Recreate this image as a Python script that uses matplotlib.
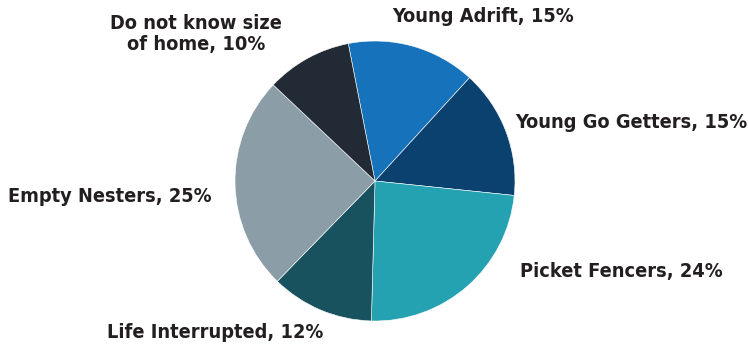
import matplotlib.pyplot as plt

labels = ['Young Adrift, 15%', 'Young Go Getters, 15%', 'Picket Fencers, 24%',
          'Life Interrupted, 12%', 'Empty Nesters, 25%', 'Do not know size\nof home, 10%']
values = [15, 15, 24, 12, 25, 10]
colors = ['#1673bb', '#0b416e', '#24a2b1', '#18525f', '#8b9ea8', '#222b35']

# label anchor points in pixels (x, y from top), placed by hand
label_pos = [(483, 17), (631, 122), (621, 272), (215, 333), (110, 197), (196, 34)]

W, H = 749, 352
fig = plt.figure(figsize=(W / 100, H / 100), dpi=100)
ax = fig.add_axes([235 / W, (H - 321) / H, 280 / W, 280 / H])
ax.pie(values, colors=colors, startangle=101, counterclock=False,
       wedgeprops=dict(edgecolor='white', linewidth=0.4))
ax.set_xlim(-1, 1)
ax.set_ylim(-1, 1)
ax.set_aspect('equal')

for lab, (px, py) in zip(labels, label_pos):
    fig.text(px / W, 1 - py / H, lab, ha='center', va='center',
             fontsize=14.3, fontweight='bold', color='#231f20', fontstretch='condensed',
             family='DejaVu Sans', linespacing=1.12)

fig.savefig('out.png', dpi=100)
